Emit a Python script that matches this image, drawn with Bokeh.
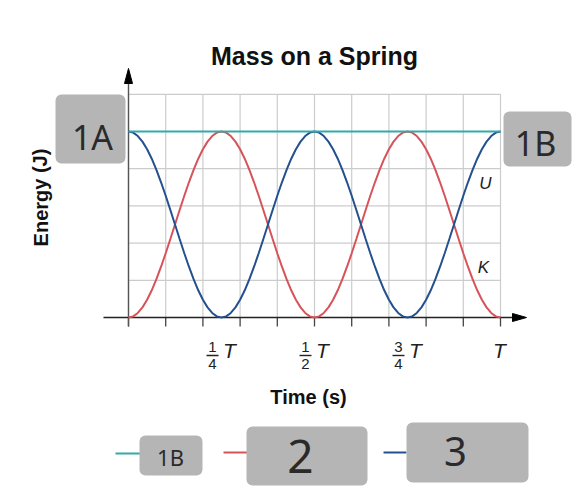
from bokeh.plotting import figure
from bokeh.models import Range1d
from bokeh.core.properties import value
from bokeh.embed import file_html
from bokeh.resources import INLINE

# ---------------- data ----------------
t = [i / 80 for i in range(81)]  # time in units of T
U = [1.0, 0.9938, 0.9755, 0.9455, 0.9045, 0.8536, 0.7939, 0.7270, 0.6545, 0.5782,
     0.5, 0.4218, 0.3455, 0.2730, 0.2061, 0.1464, 0.0955, 0.0545, 0.0245, 0.0062,
     0.0, 0.0062, 0.0245, 0.0545, 0.0955, 0.1464, 0.2061, 0.2730, 0.3455, 0.4218,
     0.5, 0.5782, 0.6545, 0.7270, 0.7939, 0.8536, 0.9045, 0.9455, 0.9755, 0.9938,
     1.0, 0.9938, 0.9755, 0.9455, 0.9045, 0.8536, 0.7939, 0.7270, 0.6545, 0.5782,
     0.5, 0.4218, 0.3455, 0.2730, 0.2061, 0.1464, 0.0955, 0.0545, 0.0245, 0.0062,
     0.0, 0.0062, 0.0245, 0.0545, 0.0955, 0.1464, 0.2061, 0.2730, 0.3455, 0.4218,
     0.5, 0.5782, 0.6545, 0.7270, 0.7939, 0.8536, 0.9045, 0.9455, 0.9755, 0.9938,
     1.0]
K = [0.0, 0.0062, 0.0245, 0.0545, 0.0955, 0.1464, 0.2061, 0.2730, 0.3455, 0.4218,
     0.5, 0.5782, 0.6545, 0.7270, 0.7939, 0.8536, 0.9045, 0.9455, 0.9755, 0.9938,
     1.0, 0.9938, 0.9755, 0.9455, 0.9045, 0.8536, 0.7939, 0.7270, 0.6545, 0.5782,
     0.5, 0.4218, 0.3455, 0.2730, 0.2061, 0.1464, 0.0955, 0.0545, 0.0245, 0.0062,
     0.0, 0.0062, 0.0245, 0.0545, 0.0955, 0.1464, 0.2061, 0.2730, 0.3455, 0.4218,
     0.5, 0.5782, 0.6545, 0.7270, 0.7939, 0.8536, 0.9045, 0.9455, 0.9755, 0.9938,
     1.0, 0.9938, 0.9755, 0.9455, 0.9045, 0.8536, 0.7939, 0.7270, 0.6545, 0.5782,
     0.5, 0.4218, 0.3455, 0.2730, 0.2061, 0.1464, 0.0955, 0.0545, 0.0245, 0.0062,
     0.0]
E_total = [1.0] * 81

x_grid = [0.0, 0.1, 0.2, 0.3, 0.4, 0.5, 0.6, 0.7, 0.8, 0.9, 1.0]
y_grid = [0.2, 0.4, 0.6, 0.8, 1.0, 1.2]
tick_pos = [0.25, 0.5, 0.75]
tick_num = ["1", "1", "3"]
tick_den = ["4", "2", "4"]
legend_labels = ["1B", "2", "3"]

TEAL = "#35a9aa"
RED = "#d65459"
BLUE = "#23508e"
GRAY_BOX = "#b5b5b5"

# ---------------- layout helpers (page px -> data) ----------------
X0, Y0, SX, SY = 128.0, 317.0, 372.0, 186.0
W, H = 576, 488


def X(px):
    return (px - X0) / SX


def Y(py):
    return (Y0 - py) / SY


p = figure(width=W, height=H, output_backend="svg", toolbar_location=None,
           x_range=Range1d(X(0), X(W)), y_range=Range1d(Y(H), Y(0)),
           x_axis_type=None, y_axis_type=None, min_border=0,
           outline_line_color=None, background_fill_color="white",
           border_fill_color="white")
p.grid.visible = False

FONT = value("Liberation Sans")
HAND = value("Noto Sans")

# grid
ytop = y_grid[-1]
p.segment(x0=x_grid, y0=[0] * len(x_grid), x1=x_grid, y1=[ytop] * len(x_grid),
          line_color="#cccccc", line_width=1.2)
p.segment(x0=[0] * len(y_grid), y0=y_grid, x1=[1] * len(y_grid), y1=y_grid,
          line_color="#cccccc", line_width=1.2)

# tick marks below x axis
p.segment(x0=x_grid, y0=[0] * len(x_grid), x1=x_grid, y1=[Y(326)] * len(x_grid),
          line_color="#444444", line_width=1.3)

# axes
p.segment(x0=[X(103)], y0=[0], x1=[X(514)], y1=[0], line_color="#222222", line_width=1.4)
p.segment(x0=[0], y0=[Y(326)], x1=[0], y1=[Y(80)], line_color="#555555", line_width=1.4)
p.patch(x=[X(526), X(512), X(512)], y=[0, Y(313), Y(321)], fill_color="black", line_color="black")
p.patch(x=[X(128), X(124), X(132)], y=[Y(68), Y(83), Y(83)], fill_color="black", line_color="black")

# curves
p.line(t, K, line_color=RED, line_width=2)
p.line(t, U, line_color=BLUE, line_width=2)
p.line(t, E_total, line_color=TEAL, line_width=2.2)

# curve labels
p.text(x=[X(485), X(483)], y=[Y(183), Y(267)], text=["U", "K"],
       text_font=FONT, text_font_style="italic", text_font_size="17px",
       text_align="center", text_baseline="middle", text_color="#222222")

# tick labels (fractions of T)
p.text(x=tick_pos, y=[0] * 3, text=tick_num, x_offset=-9, y_offset=29,
       text_font=FONT, text_font_size="15px", text_align="center",
       text_baseline="middle", text_color="#222222")
p.text(x=tick_pos, y=[0] * 3, text=tick_den, x_offset=-9, y_offset=46,
       text_font=FONT, text_font_size="15px", text_align="center",
       text_baseline="middle", text_color="#222222")
p.rect(x=[tp - 9 / SX for tp in tick_pos], y=[Y(355)] * 3, width=12, height=1.4,
       width_units="screen", height_units="screen", fill_color="#222222", line_color=None)
p.text(x=tick_pos, y=[0] * 3, text=["T"] * 3, x_offset=8, y_offset=33,
       text_font=FONT, text_font_style="italic", text_font_size="21px",
       text_align="center", text_baseline="middle", text_color="#222222")
p.text(x=[1.0], y=[0], text=["T"], x_offset=-1, y_offset=33,
       text_font=FONT, text_font_style="italic", text_font_size="21px",
       text_align="center", text_baseline="middle", text_color="#222222")

# titles
p.text(x=[X(314)], y=[Y(55)], text=["Mass on a Spring"], text_font=FONT,
       text_font_style="bold", text_font_size="25px", text_align="center",
       text_baseline="middle", text_color="#111111")
p.text(x=[X(308)], y=[Y(396)], text=["Time (s)"], text_font=FONT,
       text_font_style="bold", text_font_size="20px", text_align="center",
       text_baseline="middle", text_color="#111111")
p.text(x=[X(40)], y=[Y(197)], text=["Energy (J)"], angle=1.5708, text_font=FONT,
       text_font_style="bold", text_font_size="20px", text_align="center",
       text_baseline="middle", text_color="#111111")

# gray annotation boxes
boxes_l = [55, 503]
boxes_r = [125, 571]
boxes_t = [94, 111]
boxes_b = [163, 166]
p.quad(left=[X(v) for v in boxes_l], right=[X(v) for v in boxes_r],
       top=[Y(v) for v in boxes_t], bottom=[Y(v) for v in boxes_b],
       fill_color=GRAY_BOX, line_color=None, border_radius=6)
p.text(x=[X(92), X(535)], y=[Y(136), Y(142)], text=["1A", "1B"], text_font=HAND,
       text_font_size="34px", text_align="center", text_baseline="middle",
       text_color="#2a2a2a")

# legend
p.segment(x0=[X(115), X(223), X(383)], y0=[Y(453), Y(452), Y(452)],
          x1=[X(140), X(247), X(406)], y1=[Y(453), Y(452), Y(452)],
          line_color=[TEAL, RED, BLUE], line_width=2)
lg_l = [139, 246, 406]
lg_r = [202, 367, 528]
lg_t = [435, 426, 422]
lg_b = [475, 485, 482]
p.quad(left=[X(v) for v in lg_l], right=[X(v) for v in lg_r],
       top=[Y(v) for v in lg_t], bottom=[Y(v) for v in lg_b],
       fill_color=GRAY_BOX, line_color=None, border_radius=6)
p.text(x=[X(170), X(300), X(455)], y=[Y(456), Y(456), Y(451)], text=legend_labels,
       text_font=HAND, text_font_size=["22px", "46px", "40px"], text_align="center",
       text_baseline="middle", text_color="#2a2a2a")

open("out.html", "w").write(file_html(p, INLINE))
